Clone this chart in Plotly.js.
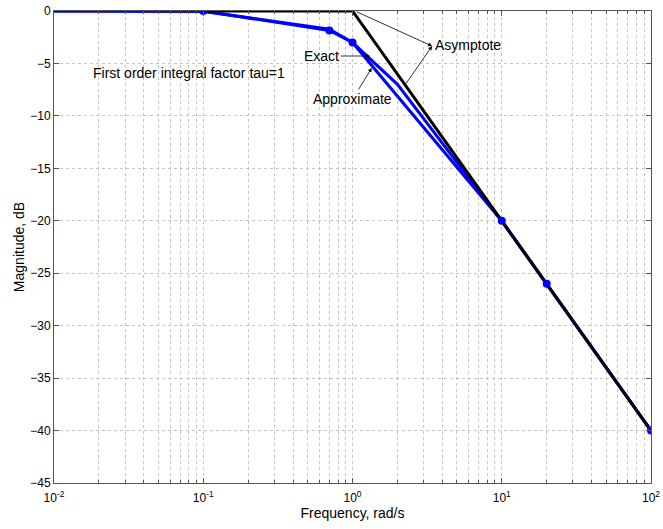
<!DOCTYPE html>
<html>
<head>
<meta charset="utf-8">
<script src="https://cdn.plot.ly/plotly-3.0.1.min.js"></script>
<style>html,body{margin:0;padding:0;background:#fff;}#chart{width:663px;height:529px;}</style>
</head>
<body>
<div id="chart"></div>
<script>
// Asymptote (black)
const asymW = [0.1, 1, 100];
const asymDb = [0, 0, -40];
// Exact curve (blue, coarsely sampled)
const exactW = [0.01, 0.1, 0.7, 1, 2, 10, 20, 100];
const exactDb = [0, -0.04, -1.73, -3.01, -6.99, -20.04, -26.03, -40.0];
// Approximate curve (blue)
const approxW = [0.01, 0.1, 0.7, 1, 10, 20, 100];
const approxDb = [0, 0, -1.85, -3, -20, -26, -40];
// Marked points
const markerW = [0.1, 0.7, 1, 10, 20, 100];
const markerDb = [0, -1.85, -3, -20, -26, -40];
// Ticks
const xTickVals = [0.01, 0.1, 1, 10, 100];
const xTickText = ['10<sup>-2</sup>', '10<sup>-1</sup>', '10<sup>0</sup>', '10<sup>1</sup>', '10<sup>2</sup>'];
const xMinorVals = [0.02,0.03,0.04,0.05,0.06,0.07,0.08,0.09,
                    0.2,0.3,0.4,0.5,0.6,0.7,0.8,0.9,
                    2,3,4,5,6,7,8,9,
                    20,30,40,50,60,70,80,90];
const yTickVals = [0, -5, -10, -15, -20, -25, -30, -35, -40, -45];

const blue = 'rgb(0,0,255)';
const traces = [
  {x: [], y: [], xaxis: 'x2', yaxis: 'y', mode: 'lines', hoverinfo: 'skip'},
  {x: exactW, y: exactDb, mode: 'lines', line: {color: blue, width: 3}, hoverinfo: 'skip'},
  {x: approxW, y: approxDb, mode: 'lines', line: {color: blue, width: 3}, hoverinfo: 'skip'},
  {x: asymW, y: asymDb, mode: 'lines', line: {color: '#000', width: 3}, hoverinfo: 'skip'},
  {x: markerW, y: markerDb, mode: 'markers', marker: {color: blue, size: 8}, hoverinfo: 'skip'}
];

const font = {family: 'Liberation Sans, Arial, sans-serif', size: 12, color: '#000'};
const afont = {family: 'Liberation Sans, Arial, sans-serif', size: 14, color: '#000'};
const tfont = {family: 'Liberation Sans, Arial, sans-serif', size: 14, color: '#000'};
const gridCol = '#c4c4c4';
const axCol = '#555';

const layout = {
  width: 663, height: 529,
  margin: {l: 54, r: 12, t: 11, b: 46},
  paper_bgcolor: '#fff', plot_bgcolor: '#fff',
  showlegend: false,
  font: font,
  xaxis: {
    type: 'log', range: [-2, 2],
    tickvals: xTickVals, ticktext: xTickText,
    ticks: 'inside', ticklen: 5, tickcolor: axCol, ticklabelstandoff: 4,
    showgrid: true, gridcolor: gridCol, griddash: 'dot', gridwidth: 1,
    showline: true, linecolor: axCol, linewidth: 1, mirror: 'ticks',
    zeroline: false,
    title: {text: 'Frequency, rad/s', font: tfont, standoff: 3},
    tickfont: font
  },
  xaxis2: {
    type: 'log', range: [-2, 2], overlaying: 'x', side: 'bottom', anchor: 'y',
    tickvals: xMinorVals, showticklabels: false,
    ticks: 'inside', ticklen: 3, tickcolor: axCol,
    showgrid: true, gridcolor: gridCol, griddash: 'dot', gridwidth: 1,
    showline: false, mirror: 'ticks', zeroline: false
  },
  yaxis: {
    range: [-45, 0],
    tickvals: yTickVals,
    ticks: 'inside', ticklen: 5, tickcolor: axCol,
    showgrid: true, gridcolor: gridCol, griddash: 'dot', gridwidth: 1,
    showline: true, linecolor: axCol, linewidth: 1, mirror: 'ticks',
    zeroline: false,
    title: {text: 'Magnitude, dB', font: tfont, standoff: 2},
    tickfont: font
  },
  annotations: [
    {x: -1.095, y: -5.91, xref: 'x', yref: 'y', text: 'First order integral factor tau=1', showarrow: false, xanchor: 'center', font: afont},
    {x: 0.117, y: -4.29, xref: 'x', yref: 'y', text: 'Exact', showarrow: true, ax: -48, ay: 0,
     arrowhead: 2, arrowsize: 1, arrowwidth: 0.8, arrowcolor: '#000', font: afont},
    {x: 0.129, y: -5.43, xref: 'x', yref: 'y', text: 'Approximate', showarrow: true, ax: -19, ay: 31,
     arrowhead: 2, arrowsize: 1, arrowwidth: 0.8, arrowcolor: '#000', font: afont},
    {x: 0.533, y: -3.34, xref: 'x', yref: 'y', text: '', showarrow: true, ax: -77, ay: -35,
     arrowhead: 2, arrowsize: 1, arrowwidth: 0.8, arrowcolor: '#000'},
    {x: 0.533, y: -3.34, xref: 'x', yref: 'y', text: '', showarrow: true, ax: -27, ay: 39,
     arrowhead: 2, arrowsize: 1, arrowwidth: 0.8, arrowcolor: '#000'},
    {x: 0.533, y: -3.24, xref: 'x', yref: 'y', text: 'Asymptote', showarrow: false, xanchor: 'left', xshift: 1, font: afont}
  ]
};

Plotly.newPlot('chart', traces, layout, {staticPlot: true, displayModeBar: false});
</script>
</body>
</html>
